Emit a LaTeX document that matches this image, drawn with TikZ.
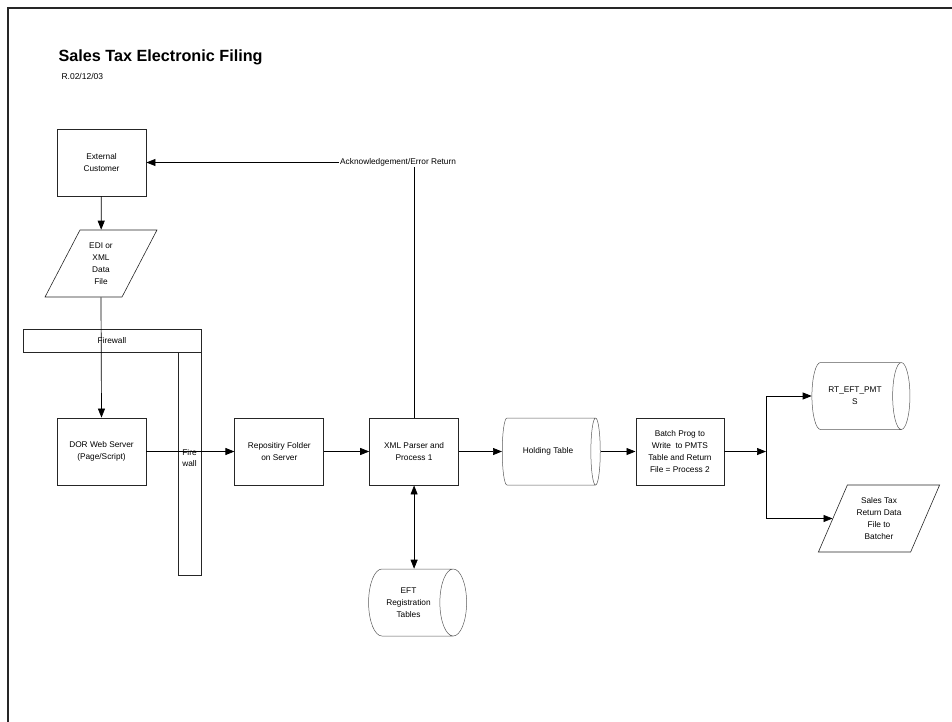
\documentclass[tikz,border=0pt]{standalone}
\usepackage{fontspec}
\setmainfont{Liberation Sans}
\usepackage{tikz}
\usetikzlibrary{positioning,arrows.meta,shapes.geometric}
\newcommand\txtsize{\fontsize{8.3}{11.8}\selectfont}
\tikzset{
  procbox/.style={draw=black!85, line width=0.8pt, minimum width=89pt,
              minimum height=67pt, align=center, inner sep=2pt, font=\txtsize},
  databox/.style={trapezium, trapezium left angle=63.8, trapezium right angle=116.2,
              trapezium stretches=true, draw=black!85, line width=0.6pt,
              minimum height=67pt, align=center, inner sep=1pt, font=\txtsize},
  storebox/.style={cylinder, shape aspect=0.8, draw=black!65, line width=0.5pt,
              minimum height=98pt, minimum width=67pt, align=center,
              inner sep=2pt, font=\txtsize},
  wallbox/.style={draw=black!85, line width=0.8pt, inner sep=0pt, font=\txtsize},
  flow/.style={-{Triangle[length=9pt,width=7pt]}, line width=0.7pt},
  bothflow/.style={{Triangle[length=9pt,width=7pt]}-{Triangle[length=9pt,width=7pt]},
              line width=0.7pt},
  >=Stealth,
}
\begin{document}
\begin{tikzpicture}[x=1pt, y=-1pt]
\useasboundingbox (0,0) rectangle (952,722);
\draw[line width=1.5pt, black!85] (8,722) -- (8,8) -- (952,8);
\node[anchor=base west, font=\bfseries\fontsize{16.2}{19}\selectfont] (title) at (55,62)
  {Sales Tax Electronic Filing};
\node[anchor=base west, font=\fontsize{8.5}{10}\selectfont] (rev) at (58,80) {R.02/12/03};

\node[procbox] (ext) at (101.5,162.5) {External\\Customer};
\node[databox, minimum width=112pt] (edi) at (101,263.5) {EDI or\\XML\\Data\\File};
\node[wallbox, minimum width=178pt, minimum height=23pt] (fwh) at (112,340.5) {Firewall};
\node[wallbox, minimum width=23pt, minimum height=223pt] (fwv) at (189.5,463.5) {};
\node[font=\txtsize, align=center, inner sep=0pt] (fwtxt) at (189.5,458) {Fire\\wall};

\node[procbox] (dor) at (101.5,451.5) {DOR Web Server\\(Page/Script)};
\node[procbox, right=88pt of dor] (repo) {Repositiry Folder\\on Server};
\node[procbox, right=45pt of repo] (xml) {XML Parser and\\Process 1};
\node[storebox, right=43pt of xml] (hold) {Holding Table};
\node[procbox, minimum width=88pt, right=35pt of hold] (batch)
  {Batch Prog to\\Write~~to PMTS\\Table and Return\\File = Process 2};
\coordinate (jn) at (766,451.5);
\node[storebox] (rtpm) at (855,396) {RT\_EFT\_PMT\\S};
\node[databox, minimum width=122pt] (stx) at (879,518.5)
  {Sales Tax\\Return Data\\File to\\Batcher};
\node[storebox] (eft) at (408.5,602.5) {EFT\\Registration\\Tables};

\draw[flow] (ext) -- (edi);
\draw[flow] (edi.south) -- (dor.north);
\draw[flow] (dor) -- (repo);
\draw[flow] (repo) -- (xml);
\draw[flow] (xml) -- (hold);
\draw[flow] (hold) -- (batch);
\draw[flow] (batch) -- (jn);
\draw[flow] (jn) |- (rtpm.west);
\draw[flow] (jn) |- (stx.west);
\draw[bothflow] (xml.south) -- (xml.south |- eft.north);
\draw[flow] (xml.north) |- node[pos=0.5, fill=white, inner sep=1pt, xshift=-16pt,
  font=\txtsize] (ack) {Acknowledgement/Error Return} (ext.east);
\end{tikzpicture}
\end{document}
